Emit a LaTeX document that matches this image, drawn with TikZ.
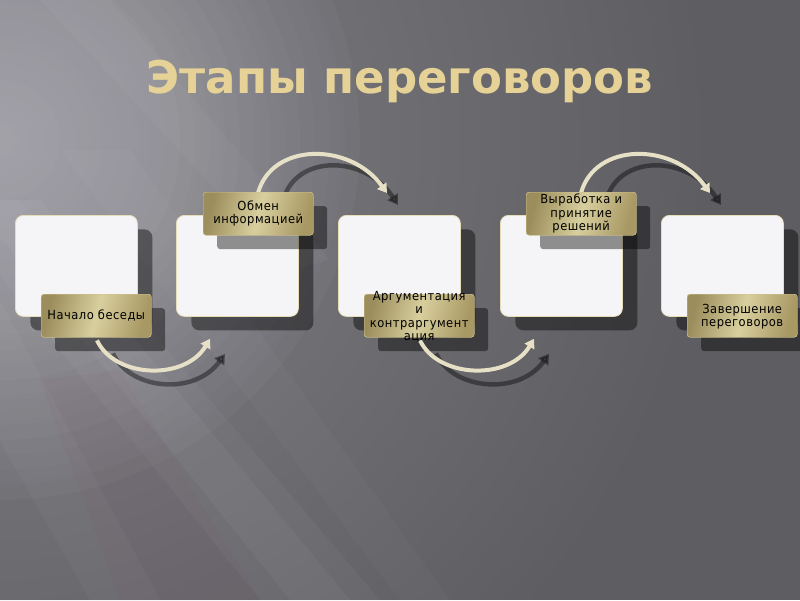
\documentclass[tikz,border=0pt]{standalone}
\usepackage{fontspec}
\setmainfont{DejaVu Sans}
\newfontfamily\lblfont[FakeStretch=0.92,LetterSpace=4]{DejaVu Sans}
\newfontfamily\ttlfont{DejaVu Sans}
\usetikzlibrary{shadows,arrows.meta,calc}
\definecolor{bgdark}{HTML}{5D5D62}
\definecolor{glow}{HTML}{D2D0DA}
\definecolor{boxfill}{HTML}{F5F5F7}
\definecolor{boxedge}{HTML}{E6DCB8}
\definecolor{goldA}{HTML}{9C8E5C}
\definecolor{goldB}{HTML}{D8CF9E}
\definecolor{goldC}{HTML}{A89864}
\definecolor{labeledge}{HTML}{CFC390}
\definecolor{cream}{HTML}{E6E0C6}
\definecolor{ttlcol}{HTML}{E6D296}
\tikzset{
  stagebox/.style={draw=boxedge, line width=0.8pt, rounded corners=8pt, fill=boxfill,
    minimum width=122pt, minimum height=101pt, anchor=north west, inner sep=0pt,
    drop shadow={shadow xshift=15pt, shadow yshift=-14pt, opacity=.42, fill=black}},
  plate/.style={draw=labeledge, line width=.4pt, rounded corners=3pt,
    left color=goldA, right color=goldC, middle color=goldB, shading angle=75,
    minimum width=110pt, minimum height=43pt, anchor=north west, inner sep=0pt},
  steplabel/.style={plate,
    drop shadow={shadow xshift=14pt, shadow yshift=-14pt, opacity=.42, fill=black}},
  labeltext/.style={inner sep=0pt, align=center, text=black,
    font=\lblfont\fontsize{12.5}{13.3}\selectfont},
  arrowfg/.style={draw=cream, line width=4pt, -{Triangle[width=11pt,length=9pt]}},
  arrowsh/.style={draw=black, opacity=.4, line width=4.5pt, -{Triangle[width=12pt,length=10pt]}},
  titletext/.style={inner sep=0pt, anchor=base, text=ttlcol,
    font=\ttlfont\bfseries\fontsize{45}{50}\selectfont},
  ray/.style={fill=white, opacity=#1},
  glowring/.style={fill=glow, opacity=#1}
}
\begin{document}
\begin{tikzpicture}[x=1pt,y=-1pt]
\useasboundingbox (0,0) rectangle (800,600);
% background
\fill[bgdark] (0,0) rectangle (800,600);
\begin{scope}
  \clip (0,0) rectangle (800,600);
  \foreach \r in {20,40,...,700} { \fill[glowring=.016] (0,140) circle (\r); }
  \foreach \r in {15,30,...,360} { \fill[glowring=.03] (0,140) circle (\r); }
  % soft light rays from the upper left
  \fill[ray=.035] (-60,200) -- (40,200) -- (380,600) -- (260,600) -- cycle;
  \fill[ray=.04] (-30,200) -- (20,200) -- (350,600) -- (290,600) -- cycle;
  \fill[ray=.03] (-80,300) -- (0,300) -- (160,600) -- (90,600) -- cycle;
  \fill[ray=.025] (60,150) -- (130,150) -- (450,600) -- (400,600) -- cycle;
  \fill[ray=.03] (40,0) -- (110,0) -- (330,260) -- (290,270) -- cycle;
  \fill[purple!50!gray, opacity=.05] (40,380) -- (120,370) -- (260,600) -- (120,600) -- cycle;
\end{scope}
% title
\node[titletext] (ttl) at (400,93) {Этапы переговоров};
% stage boxes
\node[stagebox] (b1) at (15,215) {};
\node[stagebox] (b2) at (176,215) {};
\node[stagebox] (b3) at (338,215) {};
\node[stagebox] (b4) at (500,215) {};
\node[stagebox] (b5) at (661,215) {};
% label plates (with shadows)
\node[steplabel] (l1) at (41,294) {};
\node[steplabel] (l2) at (203,192) {};
\node[steplabel] (l3) at (364,294) {};
\node[steplabel] (l4) at (526,192) {};
\node[steplabel] (l5) at (687,294) {};
% arrow coordinates
\coordinate (t1s) at ($(l2.north west)+(55,1)$);
\coordinate (t1e) at ($(b3.north west)+(49,-22)$);
\coordinate (t1ss) at ($(l2.north west)+(82,3)$);
\coordinate (t1se) at ($(b3.north west)+(60,-10)$);
\coordinate (t2s) at ($(l4.north west)+(55,1)$);
\coordinate (t2e) at ($(b5.north west)+(49,-22)$);
\coordinate (t2ss) at ($(l4.north west)+(82,3)$);
\coordinate (t2se) at ($(b5.north west)+(60,-10)$);
\coordinate (u1s) at ($(l1.south west)+(56,3)$);
\coordinate (u1e) at ($(b2.south west)+(34,22)$);
\coordinate (u1ss) at ($(l1.south west)+(72,16)$);
\coordinate (u1se) at ($(b2.south west)+(49,37)$);
\coordinate (u2s) at ($(l3.south west)+(56,3)$);
\coordinate (u2e) at ($(b4.south west)+(34,22)$);
\coordinate (u2ss) at ($(l3.south west)+(72,16)$);
\coordinate (u2se) at ($(b4.south west)+(49,37)$);
% arrow shadows
\draw[arrowsh] (t1ss) .. controls +(15,-40) and +(-33,-50) .. (t1se);
\draw[arrowsh] (t2ss) .. controls +(15,-40) and +(-33,-50) .. (t2se);
\draw[arrowsh] (u1ss) .. controls +(17,37) and +(-30,42) .. (u1se);
\draw[arrowsh] (u2ss) .. controls +(17,37) and +(-30,42) .. (u2se);
% arrows
\draw[arrowfg] (t1s) .. controls +(14,-51) and +(-37,-51) .. (t1e);
\draw[arrowfg] (t2s) .. controls +(14,-51) and +(-37,-51) .. (t2e);
\draw[arrowfg] (u1s) .. controls +(18,38) and +(-25,42) .. (u1e);
\draw[arrowfg] (u2s) .. controls +(18,38) and +(-25,42) .. (u2e);
% plates redrawn over the arrow starts
\node[plate] (l1p) at (41,294) {};
\node[plate] (l2p) at (203,192) {};
\node[plate] (l3p) at (364,294) {};
\node[plate] (l4p) at (526,192) {};
\node[plate] (l5p) at (687,294) {};
% texts
\node[labeltext] (l1t) at (l1.center) {Начало беседы};
\node[labeltext] (l2t) at (l2.center) {Обмен\\информацией};
\node[labeltext] (l3t) at ($(l3.center)+(0,1)$) {Аргументация\\и\\контраргумент\\ация};
\node[labeltext] (l4t) at (l4.center) {Выработка и\\принятие\\решений};
\node[labeltext] (l5t) at ($(l5.center)+(0,1)$) {Завершение\\переговоров};
\end{tikzpicture}
\end{document}
